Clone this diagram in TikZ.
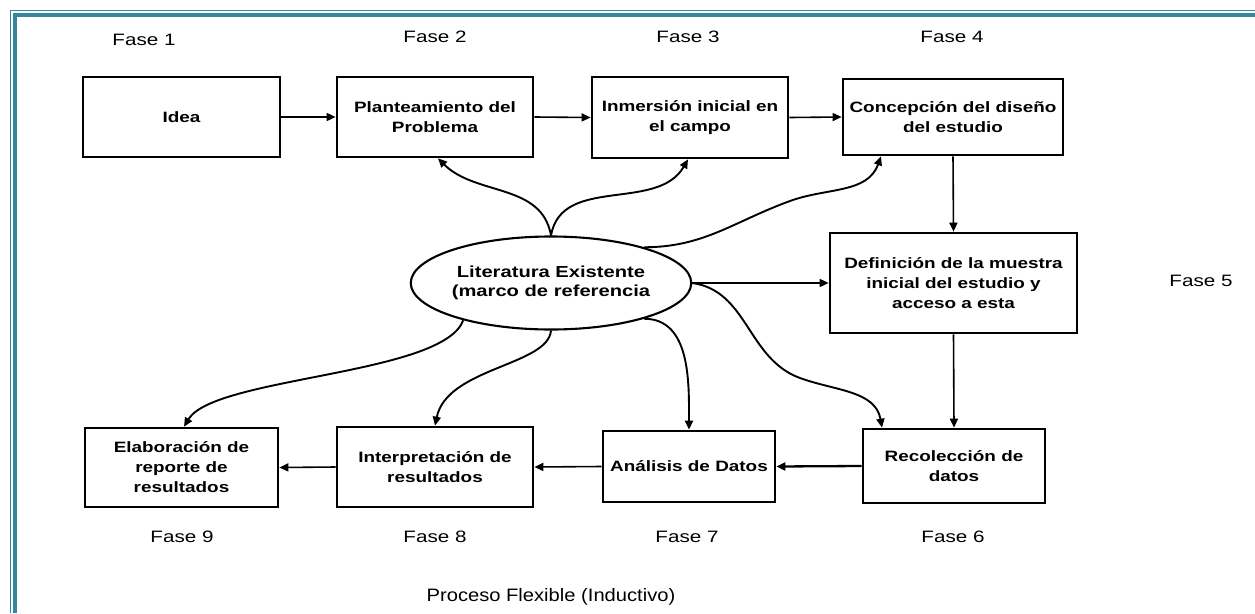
\documentclass[tikz,border=0pt]{standalone}
\usepackage{fontspec}
\setmainfont{Liberation Sans}
\newfontfamily\boxf[FakeStretch=1.26]{Liberation Sans}
\newfontfamily\lblf[FakeStretch=1.25]{Liberation Sans}
\newfontfamily\titf[FakeStretch=1.12]{Liberation Sans}
\usetikzlibrary{arrows.meta,shapes.geometric}
\definecolor{frameblue}{RGB}{54,134,160}
\begin{document}
\begin{tikzpicture}[x=1pt,y=1pt,
  box/.style={draw, line width=2.7pt, align=center, inner sep=0pt,
    font={\boxf\bfseries\fontsize{15}{20}\selectfont}},
  lbl/.style={inner sep=0pt, font={\lblf\fontsize{16.5}{20}\selectfont}},
  arr/.style={line width=1.6pt, -{Triangle[length=9pt,width=8pt]}},
  carr/.style={line width=1.9pt, -{Triangle[length=9pt,width=8pt]}}
]
\useasboundingbox (0,0) rectangle (1255,-613);
\fill[white] (0,0) rectangle (1255,-613);
% frame
\draw[frameblue, line width=1.2pt] (10.5,-613) -- (10.5,-10.5) -- (1255,-10.5);
\draw[frameblue, line width=4pt] (15,-613) -- (15,-15) -- (1255,-15);

% boxes
\node[box, minimum width=197pt, minimum height=80pt] (idea) at (181.5,-117) {Idea};
\node[box, minimum width=196pt, minimum height=80pt] (plan) at (435,-117) {Planteamiento del\\Problema};
\node[box, minimum width=196pt, minimum height=81pt] (inm) at (690,-117.5) {Inmersión inicial en\\el campo};
\node[box, minimum width=220pt, minimum height=76pt] (conc) at (953,-117) {Concepción del diseño\\del estudio};
\node[box, minimum width=247pt, minimum height=100pt] (defi) at (953.5,-283) {Definición de la muestra\\inicial del estudio y\\acceso a esta};
\node[box, minimum width=182pt, minimum height=74pt] (reco) at (954,-466) {Recolección de\\datos};
\node[box, minimum width=172pt, minimum height=71pt] (anal) at (689,-466.5) {Análisis de Datos};
\node[box, minimum width=196pt, minimum height=80pt] (interp) at (435,-467) {Interpretación de\\resultados};
\node[box, minimum width=193pt, minimum height=79pt] (elab) at (181.5,-467.5) {Elaboración de\\reporte de\\resultados};
\node[ellipse, draw, line width=2.1pt, minimum width=232pt, minimum height=93pt, inner sep=0pt, align=center,
  font={\boxf\bfseries\fontsize{16}{19}\selectfont}] (lit) at (551,-283) {Literatura Existente\\(marco de referencia};

% phase labels
\node[lbl] (f1) at (144,-40) {Fase 1};
\node[lbl] (f2) at (435,-37) {Fase 2};
\node[lbl] (f3) at (688,-37) {Fase 3};
\node[lbl] (f4) at (952,-37) {Fase 4};
\node[lbl] (f5) at (1201,-281) {Fase 5};
\node[lbl] (f6) at (953,-537) {Fase 6};
\node[lbl] (f7) at (687,-537) {Fase 7};
\node[lbl] (f8) at (435,-537) {Fase 8};
\node[lbl] (f9) at (182,-537) {Fase 9};
\node[inner sep=0pt, font={\titf\fontsize{18}{22}\selectfont}] (title) at (551,-597) {Proceso Flexible (Inductivo)};

% straight connectors
\draw[arr] (idea.east) -- (plan.west);
\draw[arr] (plan.east) -- (inm.west);
\draw[arr] (inm.east) -- (conc.west);
\draw[arr] (conc.south) -- (defi.north);
\draw[arr] (defi.south) -- (reco.north);
\draw[arr, line width=2.3pt] (reco.west) -- (anal.east);
\draw[arr] (anal.west) -- (interp.east);
\draw[arr] (interp.west) -- (elab.east);
\draw[arr] (lit.east) -- (defi.west);

% curved connectors
\coordinate (m3) at (790,-201);
\coordinate (m5) at (800,-378);
\draw[carr] (lit.north) to[out=100, in=-45] ([xshift=3pt]plan.south);
\draw[carr] (lit.north) to[out=80, in=-120] ([xshift=-2pt]inm.south);
\draw[carr] (lit.21) to[out=0, in=200] (m3) to[out=20, in=-110] ([xshift=-72pt]conc.south);
\draw[carr] (lit.east) to[out=-8, in=160] (m5) to[out=-20, in=100] ([xshift=-72pt]reco.north);
\draw[carr] (lit.-21) to[out=0, in=90] (anal.north);
\draw[carr] (lit.south) .. controls +(-3,-35) and +(12,58) .. (interp.north);
\draw[carr] (lit.-157) .. controls +(-20,-55) and +(30,50) .. ([xshift=2.5pt]elab.north);
\end{tikzpicture}
\end{document}
